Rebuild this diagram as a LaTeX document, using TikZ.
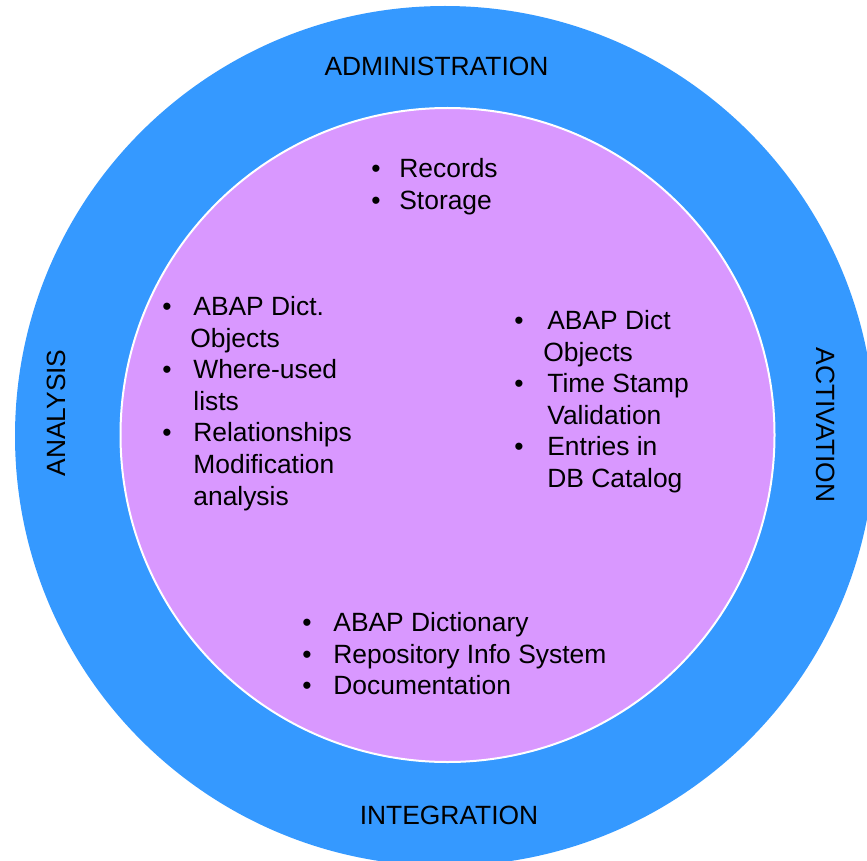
\documentclass[tikz,border=0pt]{standalone}
\usepackage{fontspec}
\setmainfont{Liberation Sans}
\definecolor{ringblue}{RGB}{53,153,255}
\definecolor{corepurple}{RGB}{217,152,255}
\begin{document}
\begin{tikzpicture}[x=0.5pt,y=-0.5pt,
  lbl/.style={font=\fontsize{13.2}{15.8}\selectfont, inner sep=0pt},
  lst/.style={font=\fontsize{13.2}{15.8}\selectfont, inner sep=0pt, anchor=base west}]
\useasboundingbox (0,0) rectangle (867,861);
\clip (0,0) rectangle (867,861);
\fill[ringblue] (445,436) circle[radius=430];
\filldraw[fill=corepurple, draw=white, line width=1pt] (447.5,435) circle[radius=327];

\node[lbl, anchor=base] (admin) at (436.5,76) {ADMINISTRATION};
\node[lbl, anchor=base] (integ) at (449,824.5) {INTEGRATION};
\node[lbl, rotate=90] (analysis) at (56.5,413) {ANALYSIS};
\node[lbl, rotate=-90] (activation) at (825.7,425) {ACTIVATION};

\node[lst] (toplist) at (371,177.5) {\begin{tabular}[t]{@{}p{14pt}@{}l@{}}
•&Records\\
•&Storage
\end{tabular}};

\node[lst] (leftlist) at (162,315.5) {\begin{tabular}[t]{@{}p{15.5pt}@{}l@{}}
•&ABAP Dict.\\
&\hspace*{-1.5pt}Objects\\
•&Where-used\\
&lists\\
•&Relationships\\
&Modification\\
&analysis
\end{tabular}};

\node[lst] (rightlist) at (514,329.5) {\begin{tabular}[t]{@{}p{16.5pt}@{}l@{}}
•&ABAP Dict\\
&\hspace*{-2pt}Objects\\
•&Time Stamp\\
&Validation\\
•&Entries in\\
&DB Catalog
\end{tabular}};

\node[lst] (bottomlist) at (302,631.5) {\begin{tabular}[t]{@{}p{15.5pt}@{}l@{}}
•&ABAP Dictionary\\
•&Repository Info System\\
•&Documentation
\end{tabular}};
\end{tikzpicture}
\end{document}
